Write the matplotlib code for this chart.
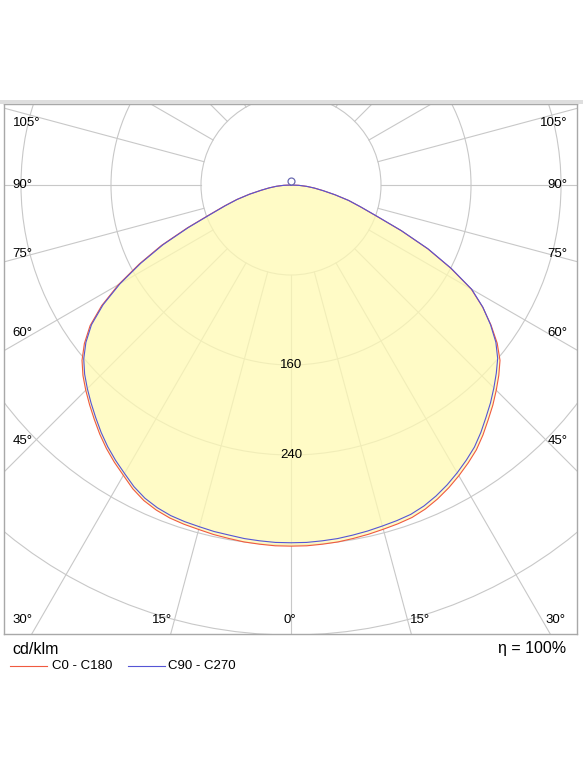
import numpy as np
import matplotlib.pyplot as plt
from matplotlib.lines import Line2D
from matplotlib.patches import Circle, Rectangle

plt.rcParams['font.family'] = ['Liberation Sans', 'DejaVu Sans']

# gamma angles (deg from nadir) and intensities in cd/klm
gamma = [0, 2.5, 5, 7.5, 10, 12.5, 15, 17.5, 20, 22.5, 25, 27.5, 30, 32.5, 35, 37.5,
         40, 42.5, 45, 47.5, 50, 52.5, 55, 57.5, 60, 62.5, 65, 67.5, 70, 72.5, 75,
         77.5, 80, 82.5, 85, 87.5, 90]
c0_c180_left = [321, 321, 320.5, 320, 319, 318.2, 317, 316.2, 315, 312.8, 309.5, 304.5,
                298, 292.2, 286, 279.2, 272, 265, 258, 250.8, 242.5, 231.5, 218, 199.5,
                177, 152, 127, 100, 77, 62, 50, 38, 27, 19.5, 13, 6.5, 0]
c0_c180_right = [321, 321, 320.5, 320, 319, 318, 316.8, 315.8, 314.5, 311.8, 308, 303.5,
                 298.4, 293, 287.3, 280.2, 272.6, 265.5, 258, 250.5, 242.5, 231, 217, 202,
                 185, 160, 134, 106, 81, 65, 53, 40, 29, 21, 14, 7, 0]
c90_c270_left = [318, 318, 317.5, 317, 316, 315.5, 314.5, 313.8, 312.7, 310.5, 307.2, 302.3,
                 296, 290.2, 284, 277.2, 270, 263, 256, 248.8, 240.5, 229.8, 216.5, 198,
                 175.5, 150.5, 125.5, 98.8, 76, 61.3, 49.5, 37.7, 27, 19.5, 13, 6.5, 0]
c90_c270_right = [318, 318, 317.5, 317, 316, 315, 313.8, 312.8, 311.5, 308.8, 305, 300.5,
                  295.4, 290, 284.3, 277.2, 269.6, 262.5, 255, 247.5, 239.8, 229.5, 216.5, 202.2,
                  185.5, 160.5, 134.5, 106.3, 81.3, 65.2, 53, 40, 29, 21, 14, 7, 0]

rings = [80, 160, 240, 320, 400, 480]
ring_labels = [160, 240]
side_angles = [45, 60, 75, 90, 105]
bottom_angles = [0, 15, 30]

red = '#f05a40'
blue = '#5555d5'
grid_col = '#c8c8c8'


def to_xy(left, right):
    g = np.radians(gamma)
    l = np.asarray(left, float)
    r = np.asarray(right, float)
    x = np.concatenate([(r * np.sin(g))[::-1], -l * np.sin(g)])
    y = np.concatenate([(-r * np.cos(g))[::-1], -l * np.cos(g)])
    return x, y


fig = plt.figure(figsize=(5.83, 7.77), dpi=100)
ax = fig.add_axes([4 / 583, (777 - 634) / 777, 573 / 583, 530 / 777])
x0, x1, y0, y1 = -255.1, 254.2, -399.1, 72
ax.set_xlim(x0, x1)
ax.set_ylim(y0, y1)
ax.set_xticks([])
ax.set_yticks([])
for s in ax.spines.values():
    s.set_color('#a8a8a8')
    s.set_linewidth(1)

# grid
for r in rings:
    ax.add_patch(Circle((0, 0), r, fill=False, ec=grid_col, lw=0.8, zorder=1))
for a in range(0, 360, 15):
    t = np.radians(a)
    ax.plot([80 * np.sin(t), 800 * np.sin(t)], [-80 * np.cos(t), -800 * np.cos(t)],
            color=grid_col, lw=0.8, zorder=1)

# curves
xr, yr = to_xy(c0_c180_left, c0_c180_right)
xb, yb = to_xy(c90_c270_left, c90_c270_right)
ax.fill(xr, yr, color=(1.0, 0.98, 0.70), alpha=0.75, lw=0, zorder=2)
ax.plot(xr, yr, color=red, lw=0.8, zorder=3)
ax.plot(xb, yb, color=blue, lw=0.8, zorder=4)
ax.plot(0, 3.5, 'o', ms=5, mfc='white', mec='#6a6ab0', mew=0.9, zorder=5)

# labels
for r in ring_labels:
    ax.text(0, -r, str(r), ha='center', va='center', fontsize=9.5, zorder=6)

for a in side_angles:
    y = min(-227.5 / np.tan(np.radians(a)), 55.4)
    ax.text(x0 + 7.6, y, f'{a}°', ha='left', va='center', fontsize=9.5)
    ax.text(x1 - 8.2, y, f'{a}°', ha='right', va='center', fontsize=9.5)

yb_lab = -386.7
for a in bottom_angles:
    xc = (0 - y0) * np.tan(np.radians(a))
    if a == 0:
        ax.text(-0.9, yb_lab, '0°', ha='center', va='center', fontsize=9.5)
        continue
    ax.text(-xc + 1, yb_lab, f'{a}°', ha='right', va='center', fontsize=9.5)
    ax.text(min(xc - 1, x1 - 8.2 - 20), yb_lab, f'{a}°', ha='left', va='center', fontsize=9.5)

# top band
fig.add_artist(Rectangle((0, (777 - 104) / 777), 1, 4 / 777, transform=fig.transFigure,
                         color='#dedede', lw=0))

# footer
fy = (777 - 649) / 777
fig.text(12.7 / 583, fy, 'cd/klm', ha='left', va='center', fontsize=11.5)
fig.text(566 / 583, fy, 'η = 100%', ha='right', va='center', fontsize=11.5)

ly = (777 - 666) / 777
fig.add_artist(Line2D([10 / 583, 46.7 / 583], [ly, ly], color=red, lw=0.8))
fig.text(51.7 / 583, ly, 'C0 - C180', ha='left', va='center', fontsize=9.5)
fig.add_artist(Line2D([127.7 / 583, 165 / 583], [ly, ly], color=blue, lw=0.8))
fig.text(168 / 583, ly, 'C90 - C270', ha='left', va='center', fontsize=9.5)

fig.savefig('out.png', dpi=100)
